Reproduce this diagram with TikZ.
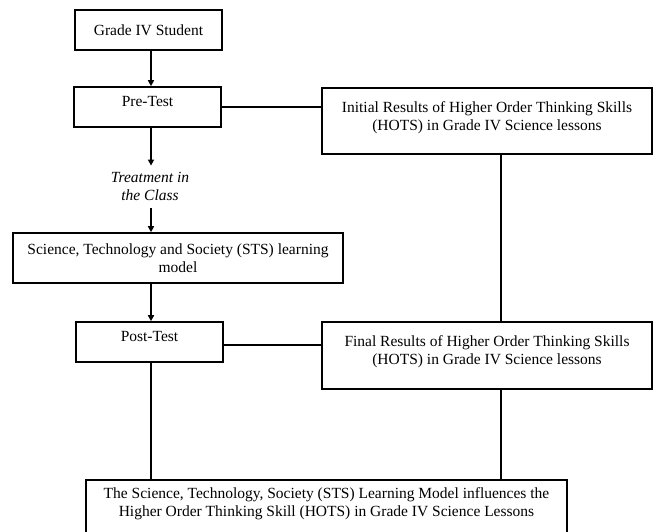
\documentclass[tikz,border=0pt]{standalone}
\usepackage{fontspec}
\setmainfont{Liberation Serif}
\usetikzlibrary{arrows.meta,calc}
\begin{document}
\begin{tikzpicture}[x=1pt,y=-1pt,
  box/.style={draw,line width=1.6pt,align=center,inner sep=0pt,font=\fontsize{15.5}{18}\selectfont},
  conn/.style={line width=1.6pt},
  arr/.style={line width=1.6pt,-{Triangle[length=6pt,width=6pt]}}]
\useasboundingbox (0,0) rectangle (653,531);
\clip (0,0) rectangle (653,531);
\node[box,minimum width=147pt,minimum height=40pt] (g4) at (148.5,30) {Grade IV Student};
\node[box,minimum width=147pt,minimum height=40pt,text depth=12pt] (pre) at (147.5,107) {Pre-Test};
\node[box,minimum width=330pt,minimum height=66pt] (init) at (487,121) {Initial Results of Higher Order Thinking Skills\\(HOTS) in Grade IV Science lessons\\[-8pt]\mbox{}};
\node[align=center,inner sep=0pt,font=\fontsize{15.5}{18}\selectfont\itshape] (treat) at (150,186) {Treatment in\\the Class};
\node[box,minimum width=330pt,minimum height=50pt] (sts) at (178,258) {Science, Technology and Society (STS) learning\\model};
\node[box,minimum width=147pt,minimum height=40pt,text depth=11pt] (post) at (149.5,342) {Post-Test};
\node[box,minimum width=330pt,minimum height=67pt] (final) at (487,355.5) {Final Results of Higher Order Thinking Skills\\(HOTS) in Grade IV Science lessons\\[-8pt]\mbox{}};
\node[box,minimum width=481pt,minimum height=56pt] (bot) at (326.5,508) {The Science, Technology, Society (STS) Learning Model influences the\\Higher Order Thinking Skill (HOTS) in Grade IV Science Lessons\\[-6pt]\mbox{}};
\coordinate (v) at (501,0);
\coordinate (u) at (151,0);
\coordinate (w) at (0,345);
\draw[arr] (g4.south -| u) -- (pre.north -| u);
\draw[arr] (pre.south -| u) -- ($(treat.north -| u)+(0,-6)$);
\draw[arr] ($(treat.south -| u)+(0,8)$) -- (sts.north -| u);
\draw[arr] (sts.south -| u) -- (post.north -| u);
\draw[conn] (pre.east) -- (init.west |- pre.east);
\draw[conn] (post.east |- w) -- (final.west |- w);
\draw[conn] (init.south -| v) -- (final.north -| v);
\draw[conn] (final.south -| v) -- (bot.north -| v);
\draw[conn] (post.south -| u) -- (bot.north -| u);
\end{tikzpicture}
\end{document}
